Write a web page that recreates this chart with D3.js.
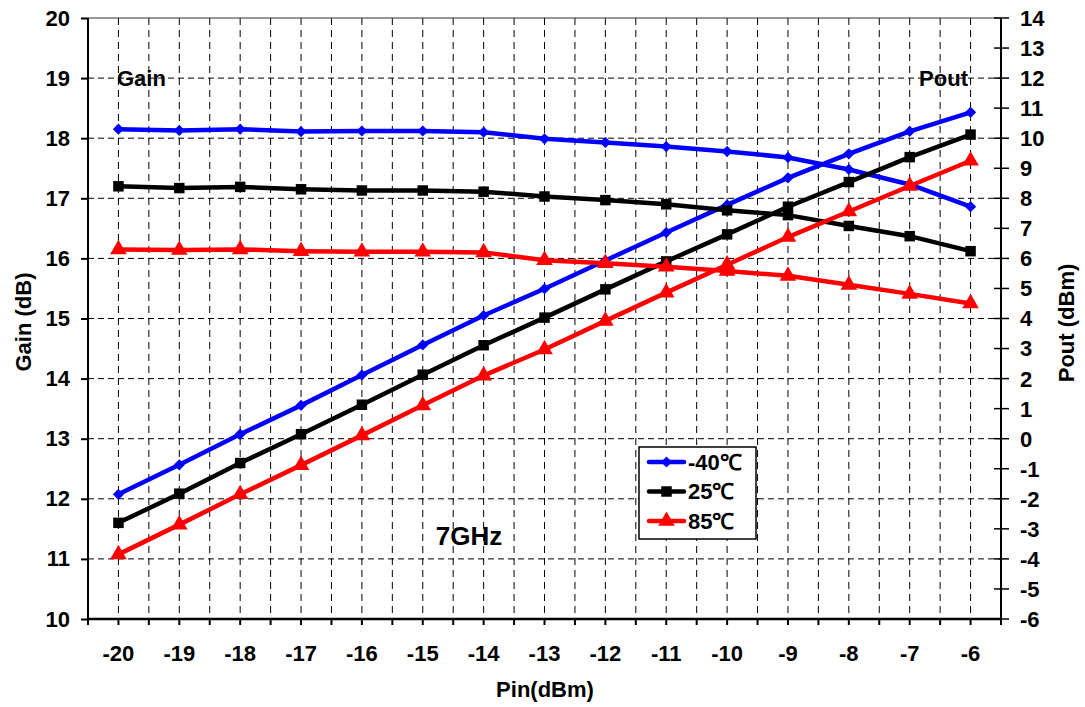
<!DOCTYPE html>
<html><head><meta charset="utf-8">
<script src="https://cdn.jsdelivr.net/npm/d3@7"></script>
<style>body{margin:0;background:#fff}text{font-family:"Liberation Sans",Arial,sans-serif;font-weight:bold}</style>
</head><body>
<svg id="c" width="1085" height="707"></svg>
<script>
const pins = [-20,-19,-18,-17,-16,-15,-14,-13,-12,-11,-10,-9,-8,-7,-6];
const gainM40 = [18.15,18.13,18.15,18.11,18.12,18.12,18.10,17.99,17.93,17.86,17.78,17.68,17.48,17.23,16.86];
const gain25  = [17.20,17.17,17.19,17.15,17.13,17.13,17.11,17.03,16.97,16.90,16.80,16.72,16.54,16.37,16.12];
const gain85  = [16.15,16.14,16.15,16.12,16.11,16.11,16.10,15.97,15.92,15.86,15.79,15.71,15.56,15.41,15.25];
const poutM40 = [-1.85,-0.87,0.15,1.11,2.12,3.12,4.10,4.99,5.93,6.86,7.78,8.68,9.48,10.23,10.86];
const pout25  = [-2.80,-1.83,-0.81,0.15,1.13,2.13,3.11,4.03,4.97,5.90,6.80,7.72,8.54,9.37,10.12];
const pout85  = [-3.85,-2.86,-1.85,-0.88,0.11,1.11,2.10,2.97,3.92,4.86,5.79,6.71,7.56,8.41,9.25];
const gainTicks = [10,11,12,13,14,15,16,17,18,19,20];
const poutTicks = d3.range(-6,15,1);
const seriesNames = ["-40℃","25℃","85℃"];
const colors = ["#0000ff","#000000","#ff0000"];
const symbols = [d3.symbolDiamond2, d3.symbolSquare, d3.symbolTriangle];

const L=88,R=1001,T=18,B=619;
const svg=d3.select("#c");
const x=d3.scaleBand().domain(pins).range([L,R]);
const bw=x.bandwidth();
const cx=d=>x(d)+bw/2;
const yL=d3.scaleLinear().domain([10,20]).range([B,T]);
const yR=d3.scaleLinear().domain([-6,14]).range([B,T]);

// vertical grid positions: centers and boundaries
const vpos=[];
pins.forEach((p,i)=>{ if(i>0) vpos.push(x(p)); vpos.push(cx(p)); });
svg.append("g").selectAll("line").data(vpos).join("line")
  .attr("x1",d=>d).attr("x2",d=>d).attr("y1",T).attr("y2",B)
  .attr("stroke","#000").attr("stroke-width",1).attr("stroke-dasharray","7,5");
svg.append("g").selectAll("line").data(gainTicks.filter(t=>t>10&&t<20)).join("line")
  .attr("x1",L).attr("x2",R).attr("y1",d=>yL(d)).attr("y2",d=>yL(d))
  .attr("stroke","#000").attr("stroke-width",1).attr("stroke-dasharray","6,4");
svg.append("line").attr("x1",L).attr("x2",R).attr("y1",T).attr("y2",T).attr("stroke","#333").attr("stroke-width",1);

// left axis
const ax=svg.append("g").attr("transform",`translate(${L},0)`)
  .call(d3.axisLeft(yL).tickValues(gainTicks).tickSize(7).tickPadding(11).tickFormat(d3.format("d")));
ax.select(".domain").remove();
ax.selectAll(".tick line").attr("stroke","#000").attr("stroke-width",2);
ax.selectAll("text").attr("font-size",22).attr("fill","#000");
svg.append("line").attr("x1",L).attr("x2",L).attr("y1",T).attr("y2",B+1).attr("stroke","#000").attr("stroke-width",2);

// right axis
const ar=svg.append("g");
ar.selectAll("line").data(poutTicks).join("line")
  .attr("x1",R-7).attr("x2",R+8).attr("y1",d=>yR(d)).attr("y2",d=>yR(d)).attr("stroke","#000").attr("stroke-width",1.5);
ar.selectAll("text").data(poutTicks).join("text")
  .attr("x",R+19).attr("y",d=>yR(d)).attr("dy","0.36em").attr("font-size",22).text(d=>d);
svg.append("line").attr("x1",R).attr("x2",R).attr("y1",T).attr("y2",B+1).attr("stroke","#000").attr("stroke-width",2);

// bottom axis
const tpos=[L].concat(vpos).concat([R]);
svg.append("g").selectAll("line").data(tpos).join("line")
  .attr("x1",d=>d).attr("x2",d=>d).attr("y1",B).attr("y2",B+6).attr("stroke","#000").attr("stroke-width",2);
svg.append("line").attr("x1",L).attr("x2",R).attr("y1",B).attr("y2",B).attr("stroke","#000").attr("stroke-width",2.5);
svg.append("g").selectAll("text").data(pins).join("text")
  .attr("x",d=>cx(d)).attr("y",661).attr("text-anchor","middle").attr("font-size",22).text(d=>d);

// titles
svg.append("text").attr("transform","translate(31,322) rotate(-90)").attr("text-anchor","middle").attr("font-size",22).text("Gain (dB)");
svg.append("text").attr("transform","translate(1074,323) rotate(-90)").attr("text-anchor","middle").attr("font-size",22).text("Pout (dBm)");
svg.append("text").attr("x",545).attr("y",697).attr("text-anchor","middle").attr("font-size",22).text("Pin(dBm)");
svg.append("text").attr("x",117).attr("y",86).attr("font-size",22).text("Gain");
svg.append("text").attr("x",968).attr("y",86).attr("text-anchor","end").attr("font-size",22).text("Pout");
svg.append("text").attr("x",469).attr("y",545).attr("text-anchor","middle").attr("font-size",26).text("7GHz");

// series
const gains=[gainM40,gain25,gain85], pouts=[poutM40,pout25,pout85];
const sizes=[80,110,120];
function drawSeries(vals,scale,i){
  const pts=pins.map((p,j)=>[cx(p),scale(vals[j])]);
  svg.append("path").attr("d",d3.line()(pts)).attr("fill","none").attr("stroke",colors[i]).attr("stroke-width",4.5).attr("stroke-linejoin","round");
  svg.append("g").selectAll("path").data(pts).join("path")
    .attr("transform",d=>`translate(${d[0]},${d[1]})`)
    .attr("d",d3.symbol().type(symbols[i]).size(sizes[i])).attr("fill",colors[i]);
}
[0,1,2].forEach(i=>{drawSeries(gains[i],yL,i);drawSeries(pouts[i],yR,i);});

// legend
const lg=svg.append("g");
lg.append("rect").attr("x",639).attr("y",447).attr("width",117).attr("height",92).attr("fill","#fff").attr("stroke","#000").attr("stroke-width",1.5);
seriesNames.forEach((n,i)=>{
  const yy=462+i*29.5;
  lg.append("line").attr("x1",649).attr("x2",684).attr("y1",yy).attr("y2",yy).attr("stroke",colors[i]).attr("stroke-width",4.5).attr("stroke-linecap","round");
  lg.append("path").attr("transform",`translate(666.5,${yy})`).attr("d",d3.symbol().type(symbols[i]).size(sizes[i])).attr("fill",colors[i]);
  lg.append("text").attr("x",688).attr("y",yy).attr("dy","0.36em").attr("font-size",22).text(n);
});
</script>
</body></html>
